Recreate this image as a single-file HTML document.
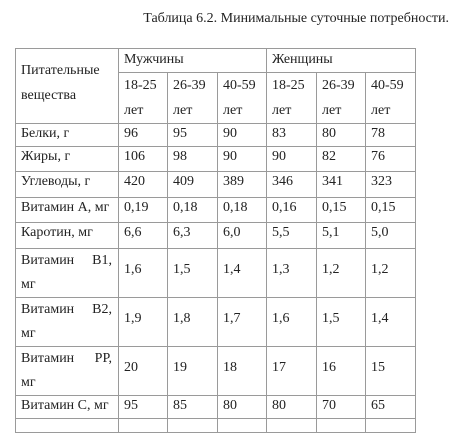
<!DOCTYPE html>
<html><head><meta charset="utf-8">
<style>
html,body{margin:0;padding:0;background:#fff;}
body{width:455px;height:428px;position:relative;overflow:hidden;font-family:"Liberation Serif","Noto Serif CJK SC","DejaVu Serif",serif;color:#222;}
#title{position:absolute;right:6px;top:11px;font-size:14px;white-space:nowrap;}
table{position:absolute;left:15px;top:48px;border-collapse:collapse;table-layout:fixed;font-size:14px;font-family:inherit;}
td{border:1px solid #9a9a9a;padding:1px 0 0 5px;vertical-align:top;line-height:18px;overflow:hidden;white-space:nowrap;}
.m td.v{vertical-align:middle;padding-top:0;padding-bottom:6px;}
.lab2{line-height:25px;padding-top:0;}
.m .lab2{line-height:24px;}
.sp{display:flex;justify-content:space-between;padding-right:6px;}
</style></head><body>
<div id="title">Таблица 6.2. Минимальные суточные потребности.</div>
<table>
<colgroup><col style="width:103px"><col style="width:49px"><col style="width:50px"><col style="width:49px"><col style="width:50px"><col style="width:49px"><col style="width:50px"></colgroup>
<tr style="height:24px">
<td rowspan="2" style="line-height:25px;padding-top:9px">Питательные<br>вещества</td>
<td colspan="3" style="padding-top:2px">Мужчины</td>
<td colspan="3" style="padding-top:2px">Женщины</td></tr>
<tr style="height:48px">
<td class="lab2">18-25<br>лет</td><td class="lab2">26-39<br>лет</td><td class="lab2">40-59<br>лет</td>
<td class="lab2">18-25<br>лет</td><td class="lab2">26-39<br>лет</td><td class="lab2">40-59<br>лет</td></tr>
<tr style="height:23px"><td>Белки, г</td><td>96</td><td>95</td><td>90</td><td>83</td><td>80</td><td>78</td></tr>
<tr style="height:25px"><td>Жиры, г</td><td>106</td><td>98</td><td>90</td><td>90</td><td>82</td><td>76</td></tr>
<tr style="height:26px"><td>Углеводы, г</td><td>420</td><td>409</td><td>389</td><td>346</td><td>341</td><td>323</td></tr>
<tr style="height:25px"><td>Витамин А, мг</td><td>0,19</td><td>0,18</td><td>0,18</td><td>0,16</td><td>0,15</td><td>0,15</td></tr>
<tr style="height:26px"><td>Каротин, мг</td><td>6,6</td><td>6,3</td><td>6,0</td><td>5,5</td><td>5,1</td><td>5,0</td></tr>
<tr class="m" style="height:48px"><td class="lab2"><div class="sp"><span>Витамин</span><span>В1,</span></div>мг</td><td class="v">1,6</td><td class="v">1,5</td><td class="v">1,4</td><td class="v">1,3</td><td class="v">1,2</td><td class="v">1,2</td></tr>
<tr class="m" style="height:48px"><td class="lab2"><div class="sp"><span>Витамин</span><span>В2,</span></div>мг</td><td class="v">1,9</td><td class="v">1,8</td><td class="v">1,7</td><td class="v">1,6</td><td class="v">1,5</td><td class="v">1,4</td></tr>
<tr class="m" style="height:48px"><td class="lab2"><div class="sp"><span>Витамин</span><span>РР,</span></div>мг</td><td class="v">20</td><td class="v">19</td><td class="v">18</td><td class="v">17</td><td class="v">16</td><td class="v">15</td></tr>
<tr style="height:23px"><td>Витамин С, мг</td><td>95</td><td>85</td><td>80</td><td>80</td><td>70</td><td>65</td></tr>
<tr style="height:14px"><td></td><td></td><td></td><td></td><td></td><td></td><td></td></tr>
</table>
</body></html>
